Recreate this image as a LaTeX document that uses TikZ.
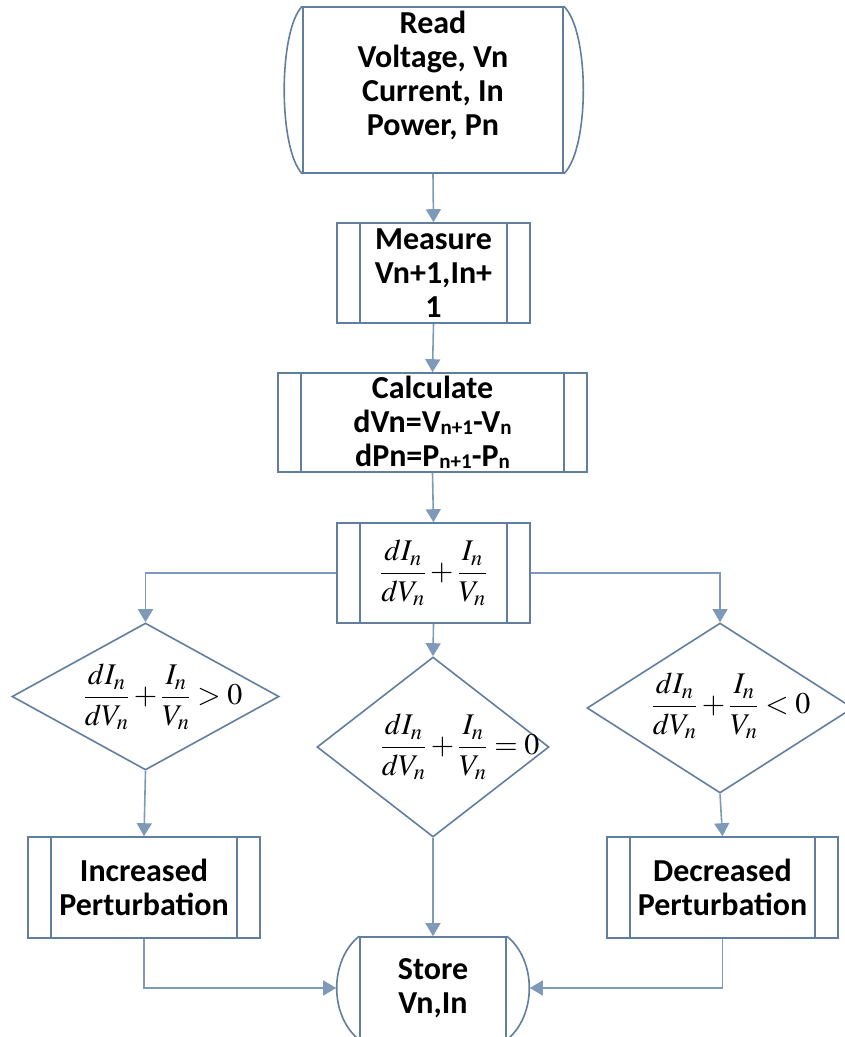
\documentclass[tikz,border=0pt]{standalone}
\usepackage{amsmath}
\usepackage{mathptmx}
\usepackage[no-math]{fontspec}
\setmainfont{Carlito}
\usetikzlibrary{arrows.meta,%
                shapes.geometric}

\definecolor{boxline}{RGB}{98,126,158}
\definecolor{flowline}{RGB}{126,154,184}

\newcommand{\smallsub}[1]{\raisebox{-1.5pt}{\fontsize{21}{21}\selectfont #1}}

\begin{document}
\begin{tikzpicture}[x=1pt, y=-1pt,
  every node/.style={font=\fontsize{32}{34}\selectfont\bfseries, align=center},
  box/.style={rectangle, draw=boxline, line width=1.6pt, inner sep=0pt},
  proc/.style={box, path picture={\draw[boxline, line width=1.6pt]
      ([xshift=23pt]path picture bounding box.north west) -- ([xshift=23pt]path picture bounding box.south west)
      ([xshift=-23pt]path picture bounding box.north east) -- ([xshift=-23pt]path picture bounding box.south east);}},
  choice/.style={diamond, draw=boxline, line width=1.6pt, inner sep=0pt},
  eq/.style={font=\fontsize{30}{34}\selectfont, inner sep=0pt},
  bulge/.style={draw=boxline, line width=1.6pt},
  flow/.style={draw=flowline, line width=1.6pt, -{Triangle[width=15pt,length=13pt]}}]
\useasboundingbox (0,0) rectangle (845,1037);

\node[box, minimum width=260pt, minimum height=166pt] (read) at (433,90) {Read\\Voltage, Vn\\Current, In\\Power, Pn\\[-10pt]\strut};
\node[proc, minimum width=193pt, minimum height=100pt] (meas) at (433.5,273) {Measure\\Vn+1,In+\\1};
\node[proc, minimum width=309pt, minimum height=99pt] (calc) at (432.5,422.5) {Calculate\\dVn=V\smallsub{n+1}-V\smallsub{n}\\dPn=P\smallsub{n+1}-P\smallsub{n}};
\node[proc, minimum width=193pt, minimum height=100pt, font=\fontsize{30}{34}\selectfont] (sum) at (433.5,573) {$\displaystyle\frac{dI_n}{dV_n}+\frac{I_n}{V_n}$};

\node[choice, minimum width=267pt, minimum height=147pt] (gt) at (145.5,696.5) {};
\node[choice, minimum width=232pt, minimum height=180pt] (zero) at (433,747) {};
\node[choice, minimum width=266pt, minimum height=170pt] (lt) at (720,708) {};
\node[eq] (gteq) at (163,697) {$\displaystyle\frac{dI_n}{dV_n}+\frac{I_n}{V_n}>0$};
\node[eq] (zeroeq) at (460,747) {$\displaystyle\frac{dI_n}{dV_n}+\frac{I_n}{V_n}=0$};
\node[eq] (lteq) at (731,706) {$\displaystyle\frac{dI_n}{dV_n}+\frac{I_n}{V_n}<0$};

\node[proc, minimum width=232pt, minimum height=101pt] (inc) at (144,887.5) {Increased\\Perturbation};
\node[proc, minimum width=231pt, minimum height=101pt] (dec) at (722.5,887.5) {Decreased\\Perturbation};
\node[box, minimum width=146pt, minimum height=102pt] (store) at (433,988) {Store\\Vn,In};

\draw[bulge] (read.north west) .. controls +(-24,25) and +(-24,-25) .. (read.south west);
\draw[bulge] (read.north east) .. controls +(26,25) and +(26,-25) .. (read.south east);
\draw[bulge] (store.north west) .. controls +(-30,24) and +(-30,-24) .. (store.south west);
\draw[bulge] (store.north east) .. controls +(30,24) and +(30,-24) .. (store.south east);
\coordinate (storeL) at ([xshift=-23pt]store.west);
\coordinate (storeR) at ([xshift=23pt]store.east);

\draw[flow] (read.south) -- (meas.north);
\draw[flow] (meas.south) -- (calc.north);
\draw[flow] (calc.south) -- (sum.north);
\draw[flow] (sum.west) -| (gt.north);
\draw[flow] (sum.south) -- (zero.north);
\draw[flow] (sum.east) -| (lt.north);
\draw[flow] (gt.south) -- (inc.north);
\draw[flow] (zero.south) -- (store.north);
\draw[flow] (lt.south) -- (dec.north);
\draw[flow] (inc.south) |- (storeL);
\draw[flow] (dec.south) |- (storeR);

\end{tikzpicture}
\end{document}
